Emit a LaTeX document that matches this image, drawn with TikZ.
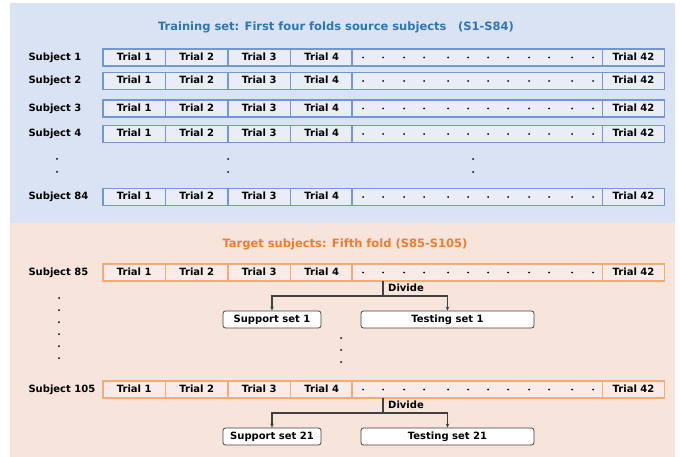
\documentclass[tikz,border=0pt]{standalone}
\usepackage{fontspec}
\setmainfont{DejaVu Sans}
\usetikzlibrary{positioning,arrows.meta}

\definecolor{bgblue}{HTML}{DAE3F3}
\definecolor{cellblue}{HTML}{E9EDF7}
\definecolor{lineblue}{HTML}{7496D4}
\definecolor{titleblue}{HTML}{2E75B6}
\definecolor{bgorange}{HTML}{F7E4DA}
\definecolor{cellorange}{HTML}{FBEBE6}
\definecolor{lineorange}{HTML}{F2AC78}
\definecolor{titleorange}{HTML}{ED7D31}
\definecolor{arrowgray}{HTML}{404040}

\tikzset{
  subj/.style={anchor=west, text height=7.3pt, text depth=2pt,
    font=\bfseries\fontsize{10}{12}\selectfont},
  trialcell/.style={draw, line width=1.1pt, minimum width=62.5pt, minimum height=17pt,
    inner sep=0pt, outer sep=0pt, text height=7.3pt, text depth=2pt,
    font=\bfseries\fontsize{10}{12}\selectfont},
  dotcell/.style={draw, line width=1.1pt, minimum width=251pt, minimum height=17pt,
    inner sep=0pt, outer sep=0pt},
  setbox/.style={draw=arrowgray, fill=white, rounded corners=2.5pt, line width=0.8pt,
    minimum height=17pt, inner sep=0pt, text height=7.3pt, text depth=2pt,
    font=\bfseries\fontsize{10}{12}\selectfont},
  divarrow/.style={draw=arrowgray, line width=1.1pt, -{Stealth[length=4pt,width=3.5pt]}},
  titletext/.style={font=\bfseries\fontsize{11.5}{14}\selectfont}
}

% one row of trials: name, y, label, fill, border
\newcommand{\trialrow}[5]{
  \node[subj] (#1-s) at (25,#2) {#3};
  \foreach \i in {1,...,4}
    \node[trialcell, fill=#4, draw=#5] (#1-\i) at ({103+62.5*(\i-0.5)},#2) {Trial \i};
  \node[dotcell, fill=#4, draw=#5] (#1-d) at (477.5,#2) {};
  \foreach \px in {363,383,404,424,448,468,488,508,529,549,572,593}
    \fill (\px,#2) circle (1pt);
  \node[trialcell, fill=#4, draw=#5] (#1-42) at (633.5,#2) {Trial 42};
}

\begin{document}
\begin{tikzpicture}[x=1pt, y=-1pt]
    \useasboundingbox (0,0) rectangle (680,457);

    % Draw backgrounds
    \fill[bgblue] (10,3) rectangle (675,223);
    \fill[bgorange] (10,223) rectangle (675,457);

    % Draw titles
    \node[titletext, text=titleblue] (traintitle) at (336,27)
        {Training set: First four folds source subjects\quad (S1-S84)};
    \node[titletext, text=titleorange] (targettitle) at (345,244)
        {Target subjects: Fifth fold (S85-S105)};

    % Draw training rows
    \trialrow{row1}{57.5}{Subject 1}{cellblue}{lineblue}
    \trialrow{row2}{81}{Subject 2}{cellblue}{lineblue}
    \trialrow{row3}{108.5}{Subject 3}{cellblue}{lineblue}
    \trialrow{row4}{134}{Subject 4}{cellblue}{lineblue}
    \trialrow{row84}{197}{Subject 84}{cellblue}{lineblue}

    % Draw vertical dots (training)
    \foreach \px in {57,228,473}
      \foreach \py in {159,172}
        \fill (\px,\py) circle (1pt);

    % Draw target rows
    \trialrow{row85}{272.5}{Subject 85}{cellorange}{lineorange}
    \trialrow{row105}{389.5}{Subject 105}{cellorange}{lineorange}

    % Draw vertical dots (target)
    \foreach \py in {298,310,322,334,346,358}
      \fill (59,\py) circle (1pt);
    \foreach \py in {338,350,362}
      \fill (341,\py) circle (1pt);

    % Draw support and testing sets
    \node[setbox, minimum width=98pt] (sup1) at (272,319.5) {Support set 1};
    \node[setbox, minimum width=173pt] (test1) at (447.5,319.5) {Testing set 1};
    \node[setbox, minimum width=98pt] (sup21) at (272,436.5) {Support set 21};
    \node[setbox, minimum width=173pt] (test21) at (447.5,436.5) {Testing set 21};

    % Draw divide connectors
    \coordinate (split1) at (383,296);
    \coordinate (split21) at (383,413);
    \draw[draw=arrowgray, line width=1.1pt] (split1 |- row85-d.south) -- (split1);
    \draw[divarrow] (split1) -| (sup1.north);
    \draw[divarrow] (split1) -| (test1.north);
    \draw[draw=arrowgray, line width=1.1pt] (split21 |- row105-d.south) -- (split21);
    \draw[divarrow] (split21) -| (sup21.north);
    \draw[divarrow] (split21) -| (test21.north);
    \node[subj, inner sep=0pt] (div1) at (388,289) {Divide};
    \node[subj, inner sep=0pt] (div21) at (388,406) {Divide};
\end{tikzpicture}
\end{document}
